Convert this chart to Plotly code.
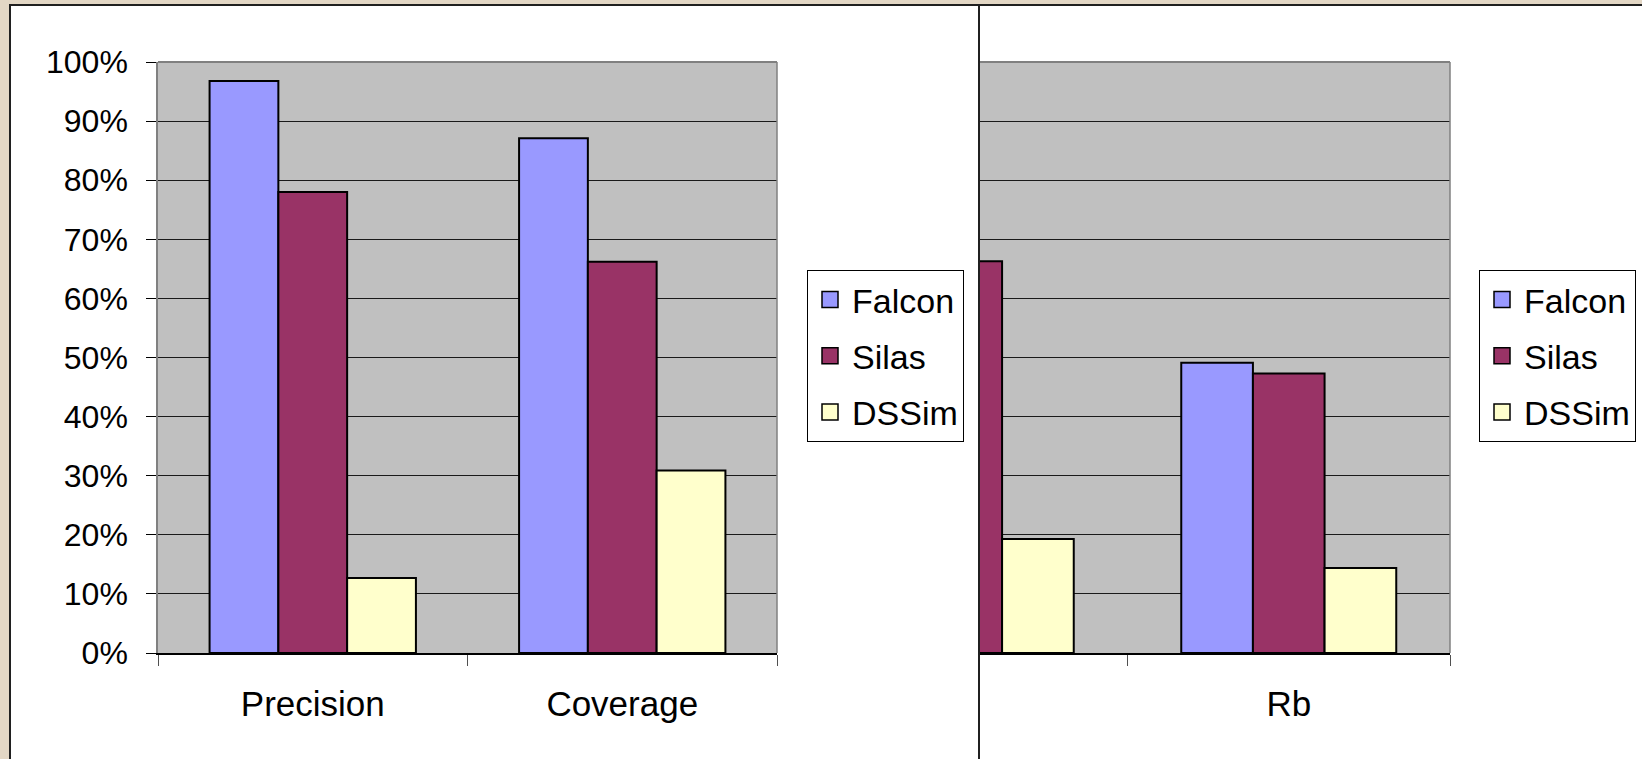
import plotly.graph_objects as go

# ---------------- data ----------------
series = ["Falcon", "Silas", "DSSim"]
colors = ["#9999FF", "#993366", "#FFFFCC"]

left_categories = ["Precision", "Coverage"]
left_values = {
    "Falcon": [0.968, 0.871],
    "Silas": [0.780, 0.662],
    "DSSim": [0.127, 0.309],
}

right_categories = ["Pb", "Rb"]
right_values = {
    "Falcon": [0.85, 0.491],
    "Silas": [0.663, 0.473],
    "DSSim": [0.193, 0.144],
}

y_ticks = [i / 10 for i in range(11)]

# ---------------- layout helpers ----------------
W, H = 1642, 759
def px(x):
    return x / W
def py(y):
    return 1 - y / H

FONT = "Liberation Sans, Arial, sans-serif"
BEIGE = "#E3D7C5"
GRAY_BG = "#C0C0C0"
BORDER_GRAY = "#808080"
GRID = "#1a1a1a"

fig = go.Figure()

for name, col in zip(series, colors):
    fig.add_trace(go.Bar(
        x=left_categories, y=left_values[name], name=name,
        marker=dict(color=col, line=dict(color="black", width=2)),
        xaxis="x", yaxis="y", showlegend=False, hoverinfo="skip"))
    fig.add_trace(go.Bar(
        x=right_categories, y=right_values[name], name=name,
        marker=dict(color=col, line=dict(color="black", width=2)),
        xaxis="x2", yaxis="y2", showlegend=False, hoverinfo="skip"))

# legend entries (square swatches)
for name, col in zip(series, colors):
    fig.add_trace(go.Scatter(
        x=[None], y=[None], mode="markers", name=name,
        marker=dict(symbol="square", size=18, color=col,
                    line=dict(color="black", width=1.5)),
        xaxis="x", yaxis="y", legend="legend", legendgroup="L" + name))
    fig.add_trace(go.Scatter(
        x=[None], y=[None], mode="markers", name=name,
        marker=dict(symbol="square", size=18, color=col,
                    line=dict(color="black", width=1.5)),
        xaxis="x2", yaxis="y2", legend="legend2", legendgroup="R" + name))

# right chart: categories span 805..1450 px, visible from 979 px
cat_w = (1450 - 805) / 2
r_start = -0.5 + (980 - 805) / cat_w

ydom = [py(653), py(62)]

xaxis_common = dict(
    type="category", tickson="boundaries", ticks="outside", ticklen=11,
    tickcolor="#505050", tickwidth=1, showline=True, linecolor="black",
    linewidth=1.5, showgrid=False, zeroline=False, automargin=False,
    tickfont=dict(family=FONT, size=35, color="black"),
    ticklabelstandoff=19, fixedrange=True)

legend_common = dict(
    xanchor="left", yanchor="top", bgcolor="white", bordercolor="black",
    borderwidth=1, font=dict(family=FONT, size=34, color="black"),
    itemwidth=34, tracegroupgap=9, traceorder="grouped")

fig.update_layout(
    width=W, height=H,
    margin=dict(l=0, r=0, t=0, b=0, pad=0, autoexpand=False),
    paper_bgcolor=BEIGE, plot_bgcolor="rgba(0,0,0,0)",
    barmode="group", bargap=1 / 3, bargroupgap=0,
    font=dict(family=FONT, color="black"),
    xaxis=dict(domain=[px(158), px(777)], range=[-0.5, 1.5],
               anchor="y", **xaxis_common),
    yaxis=dict(domain=ydom, range=[0, 1], tickvals=y_ticks,
               tickformat=".0%", ticks="outside", ticklen=10,
               tickcolor="black", showline=True, linecolor=BORDER_GRAY,
               linewidth=1.5, showgrid=True, gridcolor=GRID,
               gridwidth=1, zeroline=False, anchor="x", automargin=False,
               tickfont=dict(family=FONT, size=32, color="black"),
               ticklabelstandoff=12, fixedrange=True),
    xaxis2=dict(domain=[px(980), px(1450)], range=[r_start, 1.5],
                anchor="y2", **xaxis_common),
    yaxis2=dict(domain=ydom, range=[0, 1], tickvals=y_ticks,
                showticklabels=False, ticks="", showline=False,
                showgrid=True, gridcolor=GRID, gridwidth=1,
                zeroline=False, anchor="x2", automargin=False,
                fixedrange=True),
    legend=dict(x=px(807), y=py(270), **legend_common),
    legend2=dict(x=px(1479), y=py(270), **legend_common),
)

shapes = [
    # right chart panel (underneath)
    dict(type="rect", xref="paper", yref="paper", x0=px(979), x1=px(1700),
         y0=py(820), y1=py(5), fillcolor="white",
         line=dict(color="#202020", width=2), layer="below"),
    dict(type="rect", xref="x2 domain", yref="y2 domain", x0=0, x1=1,
         y0=0, y1=1, fillcolor=GRAY_BG, line=dict(width=0), layer="below"),
    # left chart panel (on top)
    dict(type="rect", xref="paper", yref="paper", x0=px(10), x1=px(979),
         y0=py(820), y1=py(5), fillcolor="white",
         line=dict(color="#202020", width=2), layer="below"),
    dict(type="rect", xref="x domain", yref="y domain", x0=0, x1=1,
         y0=0, y1=1, fillcolor=GRAY_BG, line=dict(width=0), layer="below"),
    # plot-area borders
    dict(type="line", xref="x domain", yref="y domain", x0=0, x1=1, y0=1, y1=1,
         line=dict(color=BORDER_GRAY, width=2), layer="above"),
    dict(type="line", xref="x domain", yref="y domain", x0=1, x1=1, y0=0, y1=1,
         line=dict(color=BORDER_GRAY, width=1.5), layer="above"),
    dict(type="line", xref="x2 domain", yref="y2 domain", x0=0, x1=1, y0=1, y1=1,
         line=dict(color=BORDER_GRAY, width=2), layer="above"),
    dict(type="line", xref="x2 domain", yref="y2 domain", x0=1, x1=1, y0=0, y1=1,
         line=dict(color=BORDER_GRAY, width=1.5), layer="above"),
]
fig.update_layout(shapes=shapes)

fig.write_html("out.html")
